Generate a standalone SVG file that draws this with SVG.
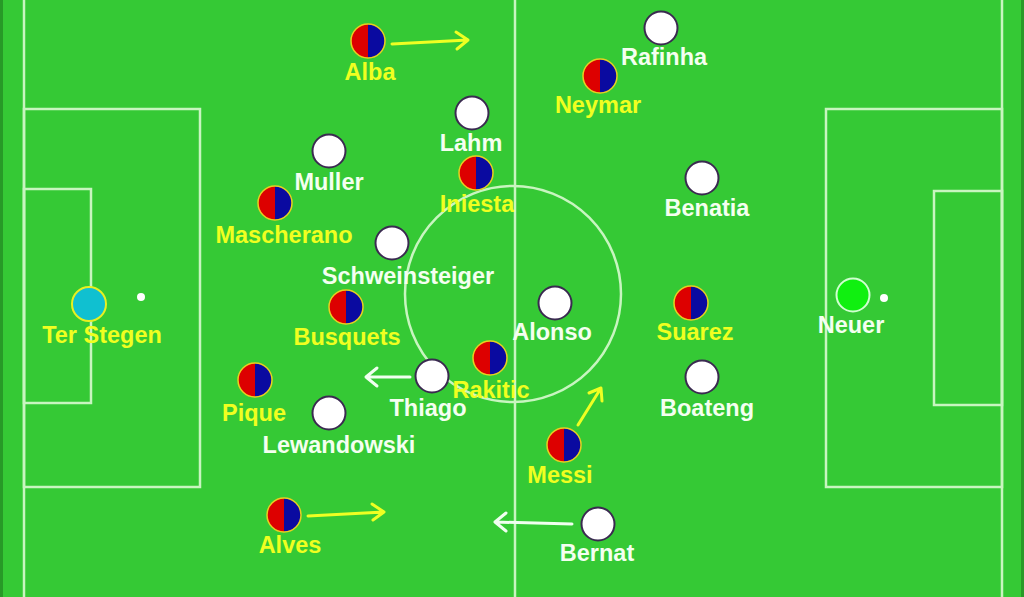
<svg xmlns="http://www.w3.org/2000/svg" width="1024" height="597" viewBox="0 0 1024 597">
<defs>
<style>
.line{fill:none;stroke:#c8f5c0;stroke-width:2.5}
.lbl{font-family:"Liberation Sans",Arial,sans-serif;font-weight:bold;font-size:23.5px;text-anchor:middle}
.y{fill:#f0ff20}
.w{fill:#f4fff0}
.wc{fill:#fff;stroke:#3a2a50;stroke-width:2}
.bo{fill:none;stroke:#e8d020;stroke-width:1.5}
.ay{stroke:#eeff22;stroke-width:3;fill:none;stroke-linecap:round;stroke-linejoin:round}
.aw{stroke:#f0fff0;stroke-width:3;fill:none;stroke-linecap:round;stroke-linejoin:round}
</style>
<g id="barca">
<path d="M0,-17 A17,17 0 0 0 0,17 Z" fill="#dd0000"/>
<path d="M0,-17 A17,17 0 0 1 0,17 Z" fill="#0a0aa0"/>
<circle r="17" class="bo"/>
</g>
<g id="white"><circle r="16.5" class="wc"/></g>
</defs>
<rect width="1024" height="597" fill="#35c935"/>
<rect width="3" height="597" fill="#279a27"/>
<rect x="1021" width="3" height="597" fill="#279a27"/>
<g id="pitch">
<line class="line" x1="24" y1="0" x2="24" y2="597"/>
<line class="line" x1="1002" y1="0" x2="1002" y2="597"/>
<line class="line" x1="515" y1="0" x2="515" y2="597"/>
<rect class="line" x="24" y="109" width="176" height="378"/>
<rect class="line" x="24" y="189" width="67" height="214"/>
<rect class="line" x="826" y="109" width="176" height="378"/>
<rect class="line" x="934" y="191" width="68" height="214"/>
<circle class="line" cx="513" cy="294" r="108"/>
<circle cx="141" cy="297" r="4" fill="#fff"/>
<circle cx="884" cy="298" r="4" fill="#fff"/>
</g>
<g id="connectors">
<path class="ay" d="M392,44 L468,40 M456,32 L468,40 L457,49"/>
<path class="ay" d="M308,516 L384,512 M372,504 L384,512 L373,520"/>
<path class="ay" d="M578,425 L601,388 M589,393 L601,388 L602,401"/>
<path class="aw" d="M410,377 L366,377 M377,368 L366,377 L377,386"/>
<path class="aw" d="M572,524 L495,522 M506,513 L495,522 L506,531"/>
</g>
<g id="alba"><use href="#barca" x="368" y="41"/><text class="lbl y" x="370" y="80">Alba</text></g>
<g id="rafinha"><use href="#white" x="661" y="28"/><text class="lbl w" x="664" y="65">Rafinha</text></g>
<g id="neymar"><use href="#barca" x="600" y="76"/><text class="lbl y" x="598" y="113">Neymar</text></g>
<g id="lahm"><use href="#white" x="472" y="113"/><text class="lbl w" x="471" y="151">Lahm</text></g>
<g id="muller"><use href="#white" x="329" y="151"/><text class="lbl w" x="329" y="190">Muller</text></g>
<g id="iniesta"><use href="#barca" x="476" y="173"/><text class="lbl y" x="477" y="212">Iniesta</text></g>
<g id="benatia"><use href="#white" x="702" y="178"/><text class="lbl w" x="707" y="216">Benatia</text></g>
<g id="mascherano"><use href="#barca" x="275" y="203"/><text class="lbl y" x="284" y="243">Mascherano</text></g>
<g id="schweinsteiger"><use href="#white" x="392" y="243"/><text class="lbl w" x="408" y="284">Schweinsteiger</text></g>
<g id="terstegen"><circle cx="89" cy="304" r="17" fill="#10c0d0" stroke="#e8f020" stroke-width="2"/><text class="lbl y" x="102" y="343">Ter Stegen</text></g>
<g id="busquets"><use href="#barca" x="346" y="307"/><text class="lbl y" x="347" y="345">Busquets</text></g>
<g id="alonso"><use href="#white" x="555" y="303"/><text class="lbl w" x="552" y="340">Alonso</text></g>
<g id="suarez"><use href="#barca" x="691" y="303"/><text class="lbl y" x="695" y="340">Suarez</text></g>
<g id="neuer"><circle cx="853" cy="295" r="16.5" fill="#10f010" stroke="#d0ffd0" stroke-width="2"/><text class="lbl w" x="851" y="333">Neuer</text></g>
<g id="rakitic"><use href="#barca" x="490" y="358"/><text class="lbl y" x="491" y="398">Rakitic</text></g>
<g id="thiago"><use href="#white" x="432" y="376"/><text class="lbl w" x="428" y="416">Thiago</text></g>
<g id="pique"><use href="#barca" x="255" y="380"/><text class="lbl y" x="254" y="421">Pique</text></g>
<g id="boateng"><use href="#white" x="702" y="377"/><text class="lbl w" x="707" y="416">Boateng</text></g>
<g id="lewandowski"><use href="#white" x="329" y="413"/><text class="lbl w" x="339" y="453">Lewandowski</text></g>
<g id="messi"><use href="#barca" x="564" y="445"/><text class="lbl y" x="560" y="483">Messi</text></g>
<g id="alves"><use href="#barca" x="284" y="515"/><text class="lbl y" x="290" y="553">Alves</text></g>
<g id="bernat"><use href="#white" x="598" y="524"/><text class="lbl w" x="597" y="561">Bernat</text></g>
</svg>
